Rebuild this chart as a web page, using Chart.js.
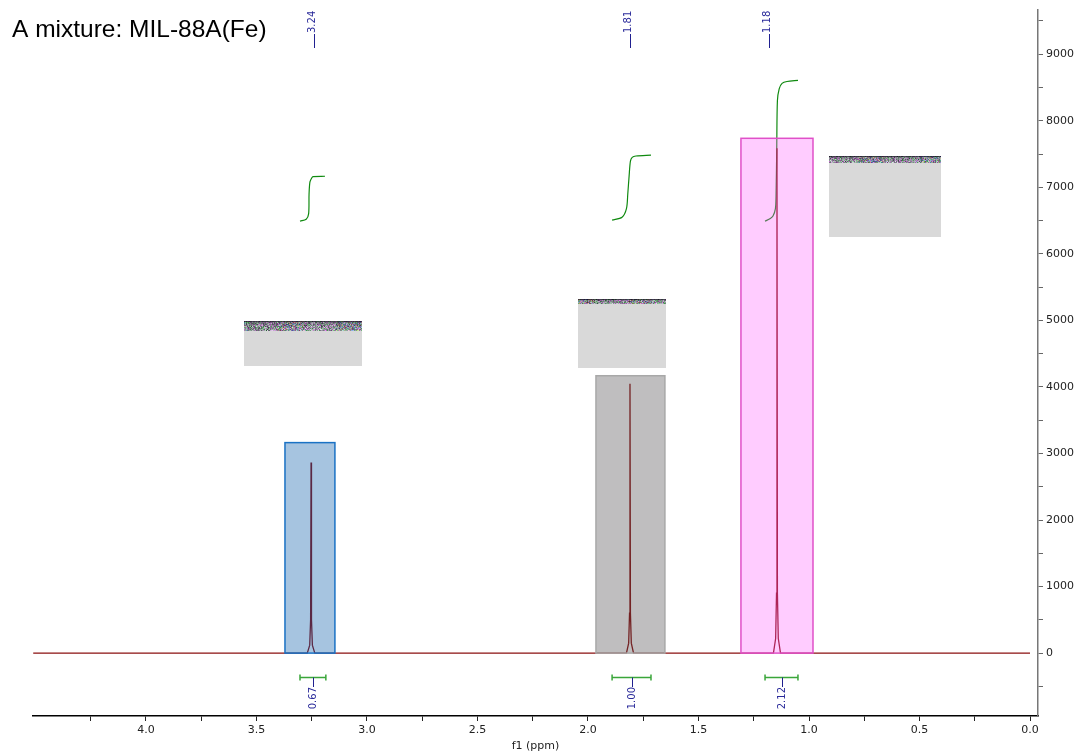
<!DOCTYPE html>
<html>
<head>
<meta charset="utf-8">
<script src="https://cdn.jsdelivr.net/npm/chart.js@4.4.1/dist/chart.umd.min.js"></script>
<style>
  html, body { margin: 0; padding: 0; background: #fff; }
  #wrap { position: relative; width: 1075px; height: 756px; }
</style>
</head>
<body>
<div id="wrap"><canvas id="nmr"></canvas></div>
<script>
// spectrum trace (ppm, intensity)
const specPpm = [4.51, 3.27, 3.259, 3.255, 3.253, 3.251, 3.247, 3.236,
  1.826, 1.816, 1.812, 1.810, 1.808, 1.804, 1.794,
  1.161, 1.151, 1.147, 1.145, 1.143, 1.139, 1.129, 0.0];
const specInt = [0, 0, 120, 500, 2864, 500, 120, 0,
  0, 150, 600, 4048, 600, 150, 0,
  0, 220, 900, 7586, 900, 220, 0, 0];

// integral curves
const int1Ppm = [3.303, 3.275, 3.264, 3.262, 3.258, 3.250, 3.244, 3.19];
const int1Val = [6490, 6520, 6600, 6900, 7080, 7140, 7160, 7166];
const int2Ppm = [1.891, 1.846, 1.826, 1.820, 1.814, 1.808, 1.800, 1.783, 1.715];
const int2Val = [6507, 6550, 6680, 6900, 7167, 7392, 7450, 7470, 7482];
const int3Ppm = [1.199, 1.175, 1.163, 1.152, 1.149, 1.146, 1.143, 1.135, 1.122, 1.10, 1.05];
const int3Val = [6492, 6530, 6567, 6680, 6900, 7600, 8300, 8480, 8561, 8590, 8606];

// peak picking labels
const peakLabels = ['3.24', '1.81', '1.18'];
const peakLabelPpm = [3.24, 1.81, 1.18];

// integral labels and ranges
const integralLabels = ['0.67', '1.00', '2.12'];
const integralFrom = [3.303, 1.891, 1.199];
const integralTo = [3.186, 1.715, 1.050];

// highlighted regions
const regionFrom = [3.371, 1.964, 1.308];
const regionTo = [3.145, 1.652, 0.982];
const regionTop = [3163, 4168, 7736];

// embedded picture placeholders
const imgFrom = [3.557, 2.045, 0.910];
const imgTo = [3.023, 1.647, 0.403];
const imgTop = [4993, 5323, 7466];
const imgBottom = [4318, 4288, 6252];

const pts = (xs, ys) => xs.map((x, i) => ({ x, y: ys[i] }));

const regionStyle = [
  { fill: 'rgba(1,86,166,0.35)', stroke: '#1a72c4' },
  { fill: 'rgba(72,69,72,0.35)', stroke: '#a8a8a8' },
  { fill: 'rgba(255,85,255,0.3)', stroke: '#e050c8' }
];
const stripH = [10, 5, 7];

const overlays = {
  id: 'overlays',
  afterDatasetsDraw(chart) {
    const ctx = chart.ctx;
    const xs = chart.scales.x, ys = chart.scales.y;
    ctx.save();

    // regions
    regionFrom.forEach((f, i) => {
      const x1 = xs.getPixelForValue(f), x2 = xs.getPixelForValue(regionTo[i]);
      const y1 = ys.getPixelForValue(regionTop[i]), y2 = ys.getPixelForValue(0);
      ctx.fillStyle = regionStyle[i].fill;
      ctx.fillRect(x1, y1, x2 - x1, y2 - y1);
      ctx.strokeStyle = regionStyle[i].stroke;
      ctx.lineWidth = 1.5;
      ctx.strokeRect(x1, y1, x2 - x1, y2 - y1);
    });

    // picture placeholders: grey with a noisy top strip
    imgFrom.forEach((f, i) => {
      const x1 = Math.round(xs.getPixelForValue(f)), x2 = Math.round(xs.getPixelForValue(imgTo[i]));
      const y1 = Math.round(ys.getPixelForValue(imgTop[i])), y2 = Math.round(ys.getPixelForValue(imgBottom[i]));
      ctx.fillStyle = '#d9d9d9';
      ctx.fillRect(x1, y1, x2 - x1, y2 - y1);
      for (let r = 0; r < stripH[i]; r++) {
        for (let c = x1; c < x2; c++) {
          let h = (c * 73856093) ^ (r * 19349663) ^ (i * 83492791);
          h = (h ^ (h >>> 13)) * 1274126177;
          h = (h ^ (h >>> 16)) >>> 0;
          const dark = r < 1 ? 0.35 : 0.75 + (r / stripH[i]) * 0.25;
          const base = ((h >>> 24) & 255) * 0.35 + 110;
          const R = Math.round((base + ((h & 255) - 128) * 0.45) * dark);
          const G = Math.round((base + (((h >> 8) & 255) - 128) * 0.45) * dark);
          const B = Math.round((base + (((h >> 16) & 255) - 128) * 0.45) * dark + 10);
          ctx.fillStyle = `rgb(${R},${G},${B})`;
          ctx.fillRect(c, y1 + r, 1, 1);
        }
      }
    });

    // peak labels on top
    ctx.strokeStyle = '#202090';
    ctx.fillStyle = '#2a2a9a';
    ctx.lineWidth = 1;
    ctx.font = '10px "DejaVu Sans"';
    peakLabelPpm.forEach((p, i) => {
      const x = Math.round(xs.getPixelForValue(p)) + 0.5;
      ctx.beginPath();
      ctx.moveTo(x, 34); ctx.lineTo(x, 48); ctx.stroke();
      ctx.save();
      ctx.translate(x + 3, 33);
      ctx.rotate(-Math.PI / 2);
      ctx.textAlign = 'left';
      ctx.textBaseline = 'bottom';
      ctx.fillText(peakLabels[i], 0, 0);
      ctx.restore();
    });

    // integral brackets and values below
    ctx.font = '10px "DejaVu Sans"';
    integralFrom.forEach((f, i) => {
      const x1 = xs.getPixelForValue(f), x2 = xs.getPixelForValue(integralTo[i]);
      const xc = Math.round((x1 + x2) / 2) + 0.5;
      const y = 677.5;
      ctx.strokeStyle = '#3aa63a';
      ctx.lineWidth = 1.5;
      ctx.beginPath();
      ctx.moveTo(x1, y); ctx.lineTo(x2, y);
      ctx.moveTo(x1, y - 3); ctx.lineTo(x1, y + 3);
      ctx.moveTo(x2, y - 3); ctx.lineTo(x2, y + 3);
      ctx.stroke();
      ctx.strokeStyle = '#202090';
      ctx.lineWidth = 1;
      ctx.beginPath();
      ctx.moveTo(xc, y); ctx.lineTo(xc, 687); ctx.stroke();
      ctx.save();
      ctx.translate(xc, 687);
      ctx.rotate(-Math.PI / 2);
      ctx.textAlign = 'right';
      ctx.textBaseline = 'middle';
      ctx.fillStyle = '#2a2a9a';
      ctx.fillText(integralLabels[i], 0, 0);
      ctx.restore();
    });

    // title
    ctx.fillStyle = '#000';
    ctx.font = '24.5px "Liberation Sans", Arial, sans-serif';
    ctx.textAlign = 'left';
    ctx.textBaseline = 'alphabetic';
    ctx.fillText('A mixture: MIL-88A(Fe)', 12, 37);
    ctx.restore();
  }
};

new Chart(document.getElementById('nmr'), {
  type: 'scatter',
  data: {
    datasets: [
      {
        label: 'spectrum',
        data: pts(specPpm, specInt),
        showLine: true,
        borderColor: '#8b1010',
        borderWidth: 1.3,
        pointRadius: 0
      },
      {
        label: 'int1',
        data: pts(int1Ppm, int1Val),
        showLine: true,
        borderColor: '#108a10',
        borderWidth: 1.2,
        pointRadius: 0,
        tension: 0.3
      },
      {
        label: 'int2',
        data: pts(int2Ppm, int2Val),
        showLine: true,
        borderColor: '#108a10',
        borderWidth: 1.2,
        pointRadius: 0,
        tension: 0.3
      },
      {
        label: 'int3',
        data: pts(int3Ppm, int3Val),
        showLine: true,
        borderColor: '#108a10',
        borderWidth: 1.2,
        pointRadius: 0,
        tension: 0.3
      }
    ]
  },
  options: {
    responsive: true,
    maintainAspectRatio: false,
    animation: false,
    layout: { padding: { left: 33, top: 8, right: 0, bottom: 0 } },
    plugins: { legend: { display: false }, tooltip: { enabled: false } },
    scales: {
      x: {
        type: 'linear',
        reverse: true,
        min: -0.036,
        max: 4.511,
        afterBuildTicks: s => {
          const t = [];
          for (let v = 0; v <= 4.2501; v += 0.25) t.push({ value: Math.round(v * 100) / 100 });
          s.ticks = t;
        },
        afterFit: s => { s.height = 40; },
        ticks: {
          autoSkip: false,
          maxRotation: 0,
          padding: 3,
          color: '#222',
          font: { family: 'DejaVu Sans', size: 11 },
          callback: v => (Math.abs(v * 2 - Math.round(v * 2)) < 1e-6 ? v.toFixed(1) : '')
        },
        grid: { drawOnChartArea: false, drawTicks: true, tickLength: 5, color: '#222' },
        border: { display: true, color: '#000', width: 1.5 },
        title: {
          display: true,
          text: 'f1 (ppm)',
          color: '#222',
          font: { family: 'DejaVu Sans', size: 11 },
          padding: { top: 0, bottom: 3 }
        }
      },
      y: {
        type: 'linear',
        position: 'right',
        min: -945,
        max: 9670,
        afterBuildTicks: s => {
          const t = [];
          for (let v = -500; v <= 9500; v += 500) t.push({ value: v });
          s.ticks = t;
        },
        afterFit: s => { s.width = 37; },
        ticks: {
          autoSkip: false,
          padding: 3,
          color: '#222',
          font: { family: 'DejaVu Sans', size: 11 },
          callback: v => (v % 1000 === 0 ? String(v) : '')
        },
        grid: { drawOnChartArea: false, drawTicks: true, tickLength: 5, color: '#666' },
        border: { display: true, color: '#777', width: 1.5 }
      }
    }
  },
  plugins: [overlays]
});
</script>
</body>
</html>
